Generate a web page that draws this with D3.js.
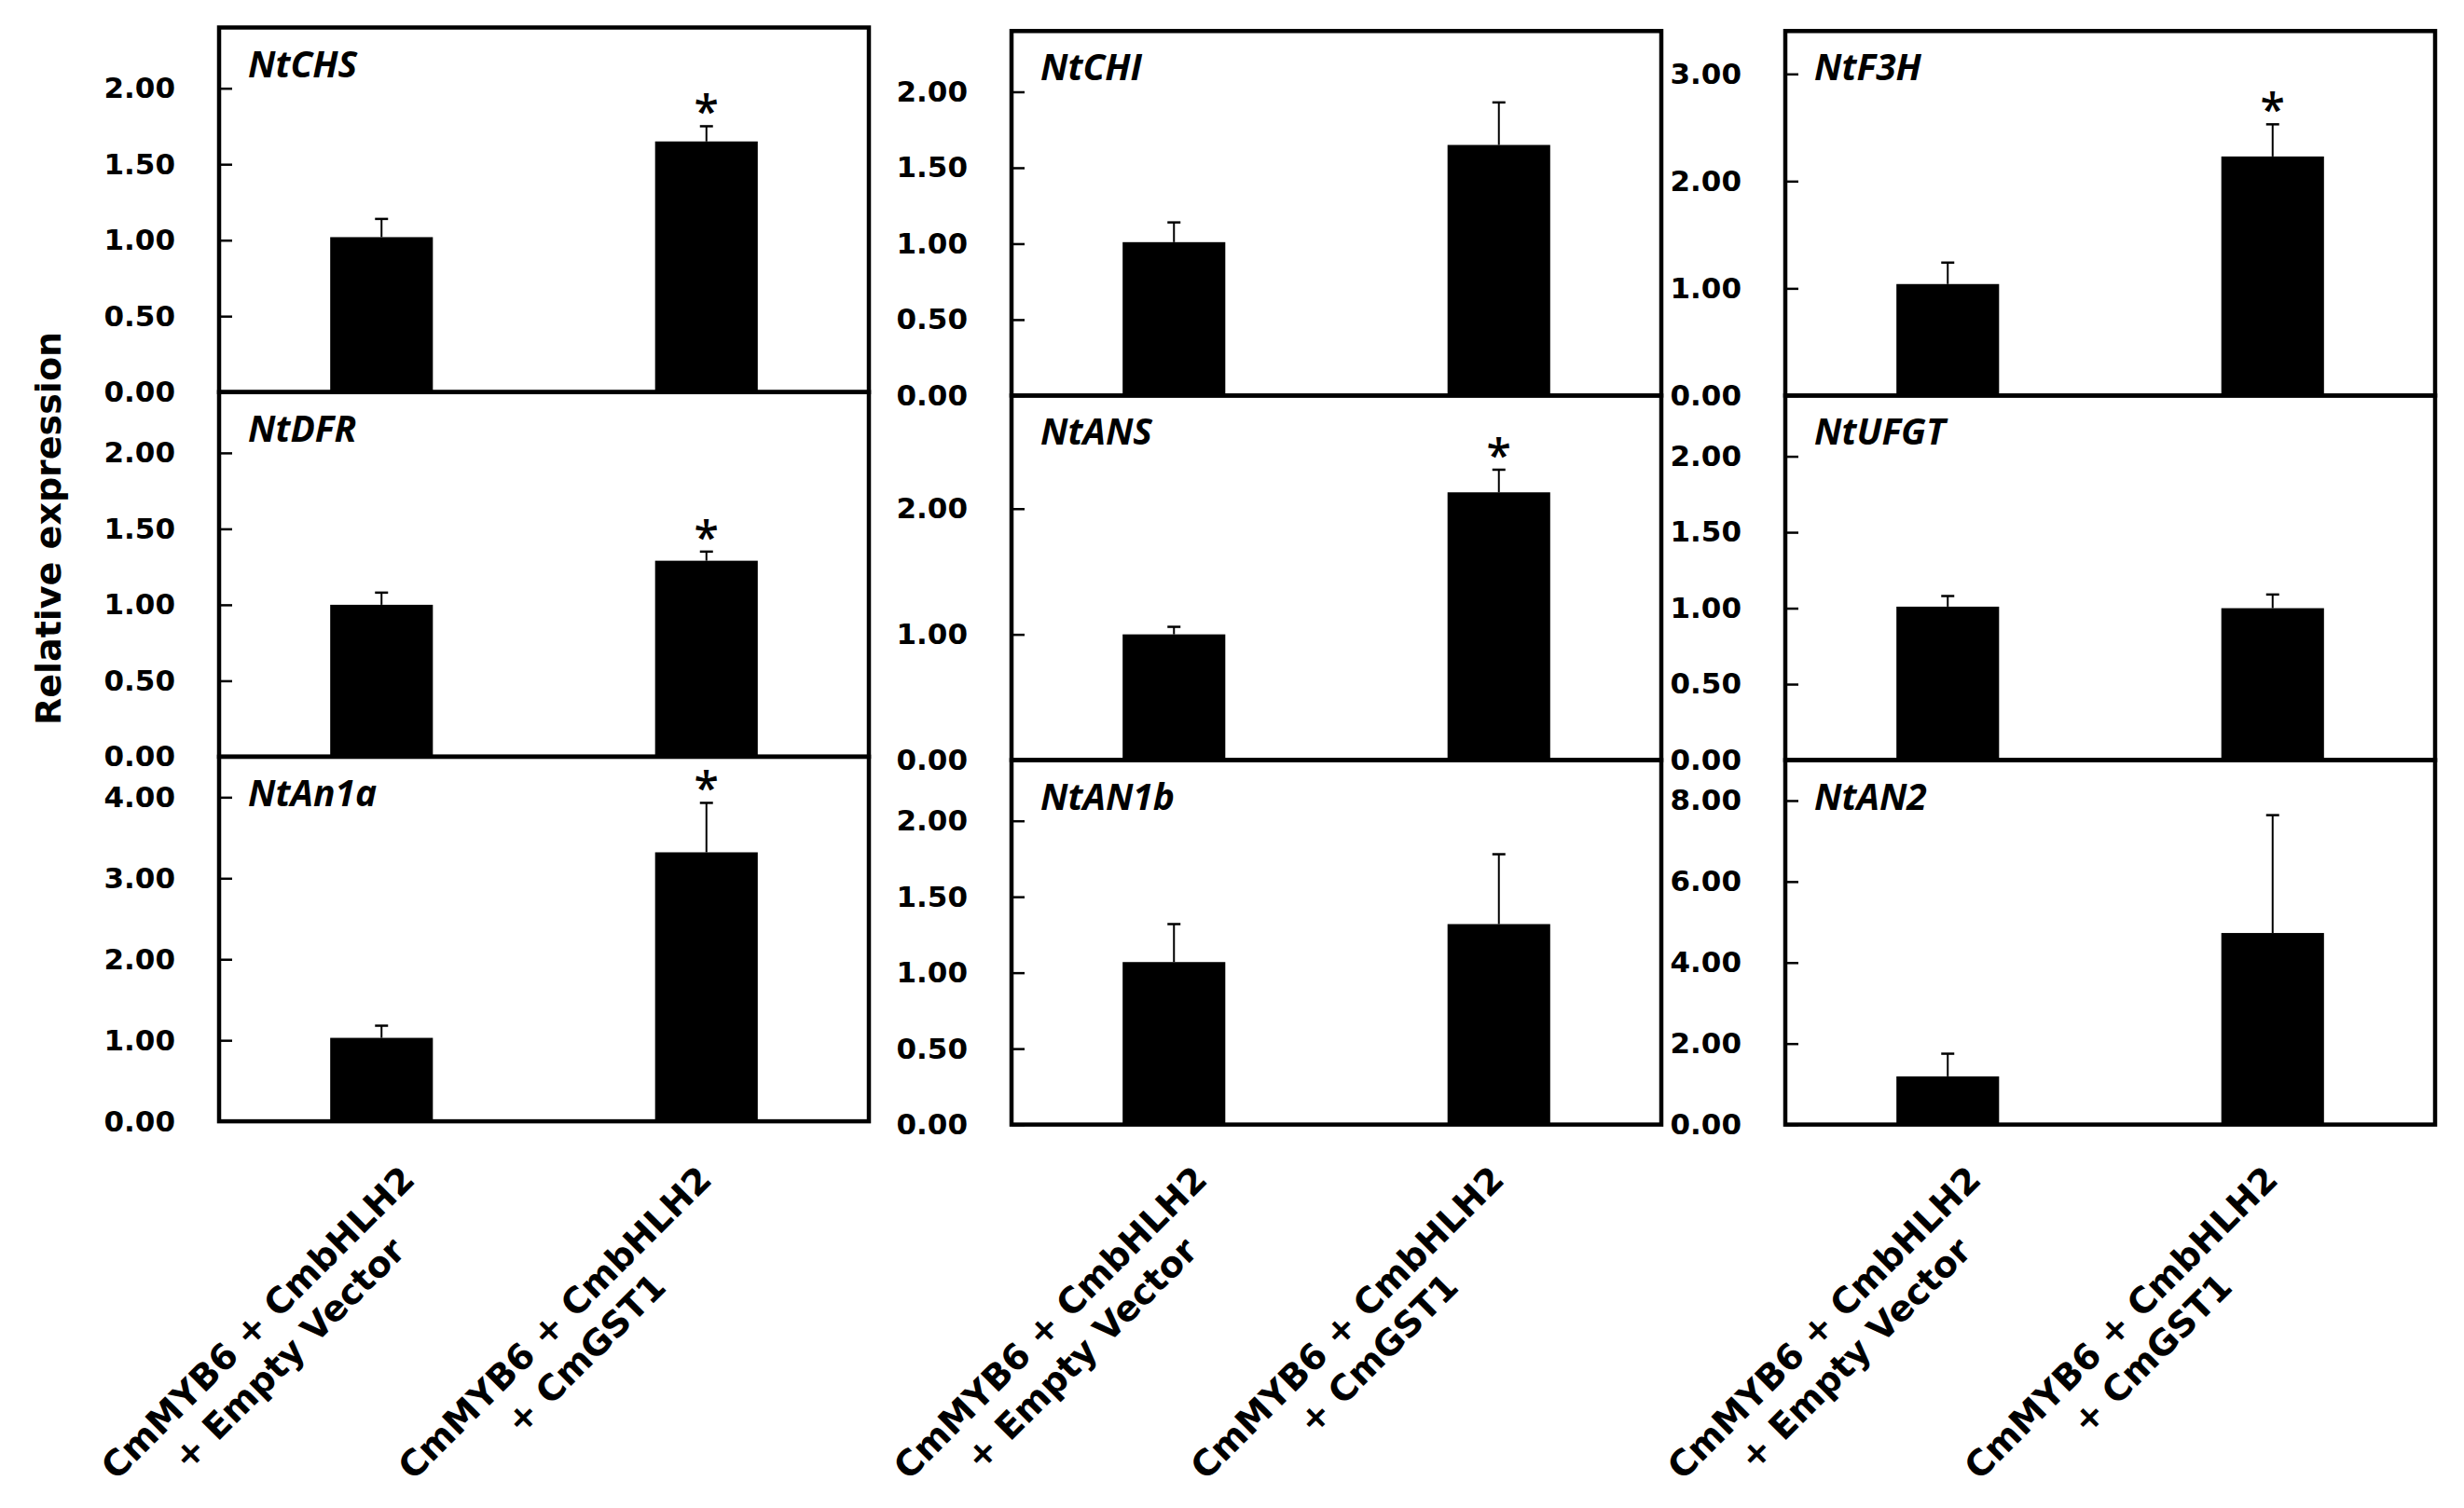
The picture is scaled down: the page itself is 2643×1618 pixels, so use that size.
<!DOCTYPE html>
<html>
<head>
<meta charset="utf-8">
<script src="https://cdn.jsdelivr.net/npm/d3@7"></script>
<style>
  body { margin: 0; background: #fff; }
</style>
</head>
<body>
<svg id="chart"></svg>
<script>
// genes, row by row (3 columns x 3 rows)
const genes = ['NtCHS', 'NtCHI', 'NtF3H', 'NtDFR', 'NtANS', 'NtUFGT', 'NtAn1a', 'NtAN1b', 'NtAN2']
const groups = [
  ['CmMYB6 + CmbHLH2', '+ Empty Vector'],
  ['CmMYB6 + CmbHLH2', '+ CmGST1']
]
const emptyMean = [1.02, 1.01, 1.04, 1.00, 1.00, 1.01, 1.03, 1.07, 1.19]
const emptyErr  = [0.12, 0.13, 0.20, 0.08, 0.06, 0.07, 0.15, 0.25, 0.56]
const gstMean   = [1.65, 1.65, 2.23, 1.29, 2.13, 1.00, 3.32, 1.32, 4.73]
const gstErr    = [0.10, 0.28, 0.30, 0.06, 0.18, 0.09, 0.61, 0.46, 2.91]
const significant = [true, false, true, true, true, false, true, false, false]
const yMax = [2.4, 2.4, 3.4, 2.4, 2.9, 2.4, 4.5, 2.4, 9.0]
const yTicks = [
  [0, 0.5, 1, 1.5, 2], [0, 0.5, 1, 1.5, 2], [0, 1, 2, 3],
  [0, 0.5, 1, 1.5, 2], [0, 1, 2], [0, 0.5, 1, 1.5, 2],
  [0, 1, 2, 3, 4], [0, 0.5, 1, 1.5, 2], [0, 2, 4, 6, 8]
]

// layout
const W = 2643, H = 1618
const colLeft = [235, 1085, 1915]
const colTop = [29.5, 33.3, 33.3]
const rowH = [391.2, 391.1, 391.1]
const panelW = 697
const labelShift = [-116, -146]
const labelY = 1436
const tickFont = 'DejaVu Sans, sans-serif'

const svg = d3.select('#chart')
  .attr('width', W)
  .attr('height', H)
  .style('background', '#fff')

const x = d3.scaleBand()
  .domain([0, 1])
  .range([0, panelW])
  .paddingInner(0.684)
  .paddingOuter(0.342)

genes.forEach((gene, i) => {
  const col = i % 3
  const row = Math.floor(i / 3)
  const top = colTop[col] + row * rowH[col]
  const g = svg.append('g')
    .attr('transform', `translate(${colLeft[col]}, ${top})`)

  const y = d3.scaleLinear()
    .domain([0, yMax[i]])
    .range([rowH[col], 0])

  const bars = [
    { k: 0, mean: emptyMean[i], err: emptyErr[i], sig: false },
    { k: 1, mean: gstMean[i], err: gstErr[i], sig: significant[i] }
  ]

  // y axis, ticks pointing inwards
  const yAxis = d3.axisLeft(y)
    .tickValues(yTicks[i])
    .tickFormat(d3.format('.2f'))
    .tickSizeInner(-14)
    .tickSizeOuter(0)
    .tickPadding(47)
  const ax = g.append('g').call(yAxis)
  ax.select('.domain').remove()
  ax.selectAll('line').attr('stroke', '#000').attr('stroke-width', 2.5)
  ax.selectAll('text')
    .attr('font-family', tickFont)
    .attr('font-weight', 'bold')
    .attr('font-size', 31)
    .attr('fill', '#000')

  g.selectAll('rect.bar')
    .data(bars)
    .join('rect')
    .attr('class', 'bar')
    .attr('x', d => x(d.k))
    .attr('width', x.bandwidth())
    .attr('y', d => y(d.mean))
    .attr('height', d => y(0) - y(d.mean))
    .attr('fill', '#000')

  // error bars (upper only)
  g.selectAll('line.err')
    .data(bars)
    .join('line')
    .attr('class', 'err')
    .attr('x1', d => x(d.k) + x.bandwidth() / 2)
    .attr('x2', d => x(d.k) + x.bandwidth() / 2)
    .attr('y1', d => y(d.mean))
    .attr('y2', d => y(d.mean + d.err))
    .attr('stroke', '#000')
    .attr('stroke-width', 2)
  g.selectAll('line.cap')
    .data(bars)
    .join('line')
    .attr('class', 'cap')
    .attr('x1', d => x(d.k) + x.bandwidth() / 2 - 7)
    .attr('x2', d => x(d.k) + x.bandwidth() / 2 + 7)
    .attr('y1', d => y(d.mean + d.err))
    .attr('y2', d => y(d.mean + d.err))
    .attr('stroke', '#000')
    .attr('stroke-width', 2.5)

  g.selectAll('text.star')
    .data(bars.filter(d => d.sig))
    .join('text')
    .attr('class', 'star')
    .attr('x', d => x(d.k) + x.bandwidth() / 2)
    .attr('y', d => y(d.mean + d.err) - 26 + 0.58 * 48)
    .attr('text-anchor', 'middle')
    .attr('font-family', 'Open Sans, sans-serif')
    .attr('font-weight', 600)
    .attr('font-size', 48)
    .text('*')

  // frame
  g.append('rect')
    .attr('width', panelW)
    .attr('height', rowH[col])
    .attr('fill', 'none')
    .attr('stroke', '#000')
    .attr('stroke-width', 4.5)

  g.append('text')
    .attr('x', 31)
    .attr('y', 53)
    .attr('font-family', 'Open Sans, sans-serif')
    .attr('font-weight', 'bold')
    .attr('font-style', 'italic')
    .attr('font-size', 39)
    .text(gene)
})

// category labels under each column
colLeft.forEach(left => {
  groups.forEach((lines, k) => {
    const cx = left + x(k) + x.bandwidth() / 2 + labelShift[k]
    const t = svg.append('text')
      .attr('transform', `translate(${cx}, ${labelY}) rotate(-45)`)
      .attr('text-anchor', 'middle')
      .attr('font-family', tickFont)
      .attr('font-weight', 'bold')
      .attr('font-size', 38)
    lines.forEach((s, j) => {
      t.append('tspan')
        .attr('x', 0)
        .attr('y', j === 0 ? -23.5 : 23.5)
        .attr('dominant-baseline', 'central')
        .text(s)
    })
  })
})

svg.append('text')
  .attr('transform', 'translate(52, 567) rotate(-90)')
  .attr('text-anchor', 'middle')
  .attr('dominant-baseline', 'central')
  .attr('font-family', tickFont)
  .attr('font-weight', 'bold')
  .attr('font-size', 38)
  .text('Relative expression')
</script>
</body>
</html>
